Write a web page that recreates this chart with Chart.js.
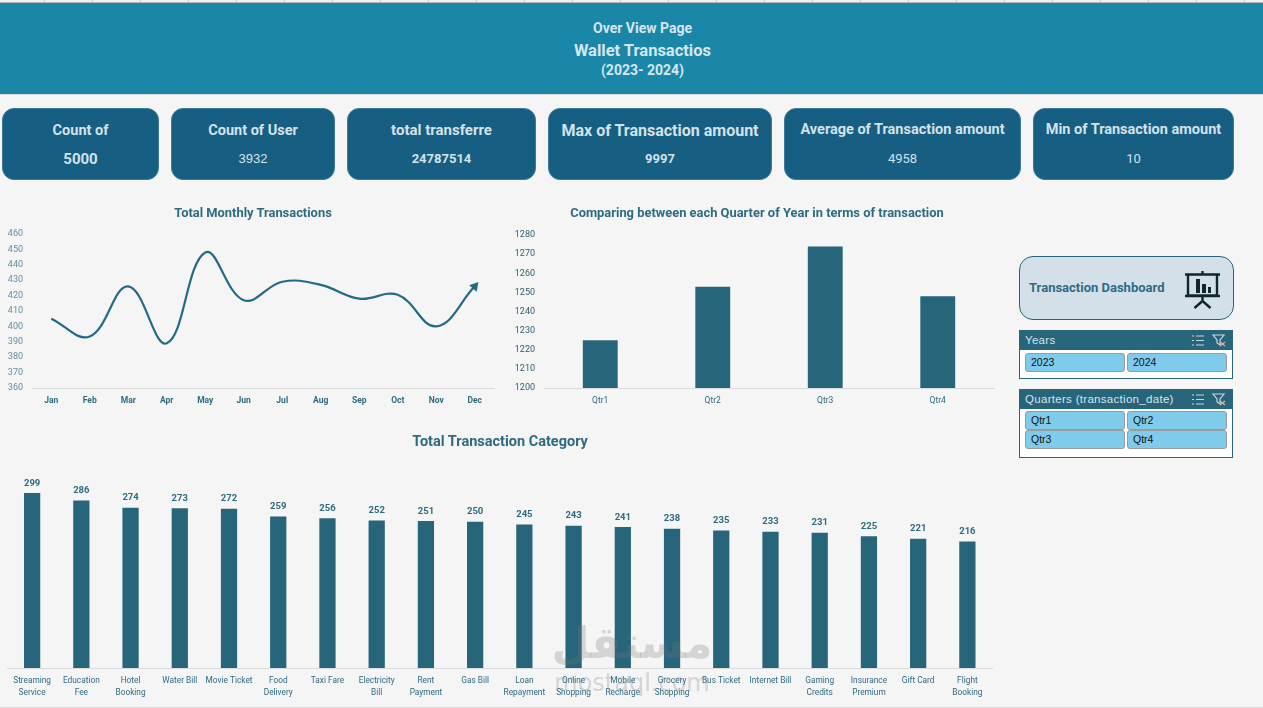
<!DOCTYPE html>
<html>
<head>
<meta charset="utf-8">
<title>Wallet Transactions</title>
<script src="https://cdn.jsdelivr.net/npm/chart.js@4"></script>
<style>
  html, body { margin: 0; padding: 0; background: #f5f5f5; overflow: hidden; }
  body { width: 1263px; height: 708px; position: relative; font-family: Roboto, sans-serif; }
  .abs, canvas { position: absolute; }
  #strip { left: 0; top: 0; width: 1263px; height: 2px; background: repeating-linear-gradient(90deg, #f0f0f0 0 44px, #cfcfcf 44px 45px, #f0f0f0 45px 48px); border-bottom: 1px solid #b5b5b5; }
  #header { left: 0; top: 3px; width: 1263px; height: 91px; background: #1a86a8; border-bottom: 1px solid #dcdcdc; color: #d6e6ee; text-align: center; font-weight: 700; font-size: 14px; line-height: 21px; }
  #header div { position: relative; left: 11px; top: 15px; }
  #header .big { font-size: 16.5px; top: 16px; }
  #bottomLine { left: 0; top: 707px; width: 1263px; height: 1px; background: #dcdcdc; }
  .card { background: #165e82; border: 1px solid #3b7a9a; border-radius: 12px; color: #d4e2ea; text-align: center; box-sizing: border-box; top: 108px; height: 72px; }
  .card .t { position: absolute; left: 0; right: 0; top: 12px; font-weight: 700; font-size: 14.5px; line-height: 18px; }
  .card .v { position: absolute; left: 0; right: 0; top: 41px; font-size: 13px; line-height: 18px; }
  .ct { text-align: center; color: #2f6b80; font-weight: 700; font-size: 12.9px; line-height: 18px; width: 500px; z-index: 2; }
  #panel { left: 1019px; top: 256px; width: 215px; height: 64px; box-sizing: border-box; background: #d3e0ea; border: 1px solid #26647a; border-radius: 14px; color: #2f6b80; font-weight: 700; font-size: 13px; line-height: 62px; padding-left: 9px; }
  .slicer { left: 1019px; width: 214px; background: #fff; border: 1px solid #27657a; box-sizing: border-box; }
  .slicer .h { height: 19px; background: #27657a; color: #d8e4ea; font-family: "Liberation Sans", sans-serif; font-size: 11.5px; line-height: 19px; padding-left: 5px; letter-spacing: .3px; }
  .btn { position: absolute; width: 100px; height: 19px; box-sizing: border-box; background: #7fcbec; border: 1px solid #9a9a9a; border-radius: 3px; font-family: "Liberation Sans", sans-serif; font-size: 10.5px; line-height: 17px; padding-left: 5px; color: #111; }
  #wm { left: 530px; top: 618px; width: 204px; text-align: center; color: rgba(120,120,120,.26); font-family: "DejaVu Sans", sans-serif; pointer-events: none; z-index: 5; }
  #wm .ar { font-size: 44px; line-height: 50px; font-weight: 700; }
  #wm .en { font-size: 24px; line-height: 30px; }
</style>
</head>
<body>
<div id="strip" class="abs"></div>
<div id="header" class="abs"><div>Over View Page</div><div class="big">Wallet Transactios</div><div>(2023- 2024)</div></div>
<div id="cards"></div>

<canvas id="lineChart" width="506" height="214" style="left:0;top:200px"></canvas>
<canvas id="quarterChart" width="500" height="214" style="left:507px;top:200px"></canvas>
<canvas id="categoryChart" width="1000" height="278" style="left:0;top:430px"></canvas>

<div class="abs ct" style="left:3px;top:204px">Total Monthly Transactions</div>
<div class="abs ct" style="left:507px;top:204px">Comparing between each Quarter of Year in terms of transaction</div>
<div class="abs ct" style="left:250px;top:433px;font-size:14.5px">Total Transaction Category</div>

<div id="panel" class="abs">Transaction Dashboard</div>
<svg class="abs" style="left:1184px;top:271px" width="37" height="38" viewBox="0 0 37 38" fill="none" stroke="#10262e" stroke-width="2.4">
  <path d="M1 3.500h35M4 3.500v21h29v-21M1 25h35M18.500 25v6M18.500 30l-8 7M18.500 30l8 7M18.500 0v3"/>
  <path d="M12 8h4v14h-4zM18 13h4v9h-4zM24 16h3v6h-3z" fill="#10262e" stroke="none"/>
</svg>
<div class="abs slicer" style="top:330px;height:49px"><div class="h">Years</div></div>
<div class="abs slicer" style="top:389px;height:69px"><div class="h">Quarters (transaction_date)</div></div>
<svg class="abs" style="left:1191px;top:334px" width="36" height="13" viewBox="0 0 36 13" fill="none" stroke="#c9d8df" stroke-width="1.2">
  <path d="M5 2h8M5 6.500h8M5 11h8M1 2h2M1 6.500h2M1 11h2M22 1h11l-4 5v5l-3-2v-3z"/><path d="M29 8l5 4M34 8l-5 4" stroke="#e2b7a8"/>
</svg>
<svg class="abs" style="left:1191px;top:393px" width="36" height="13" viewBox="0 0 36 13" fill="none" stroke="#c9d8df" stroke-width="1.2">
  <path d="M5 2h8M5 6.500h8M5 11h8M1 2h2M1 6.500h2M1 11h2M22 1h11l-4 5v5l-3-2v-3z"/><path d="M29 8l5 4M34 8l-5 4" stroke="#e2b7a8"/>
</svg>
<div id="buttons"></div>
<div id="wm" class="abs"><div class="ar">مستقل</div><div class="en">mostaql.com</div></div>
<div id="bottomLine" class="abs"></div>

<script>
const months = ['Jan','Feb','Mar','Apr','May','Jun','Jul','Aug','Sep','Oct','Nov','Dec'];
const monthTotals = [405,393.5,426,389,448,417,429,427,418,420.5,400,426];

const quarters = ['Qtr1','Qtr2','Qtr3','Qtr4'];
const quarterTotals = [1225,1253,1274,1248];

const categories = [['Streaming','Service'],['Education','Fee'],['Hotel','Booking'],'Water Bill','Movie Ticket',
  ['Food','Delivery'],'Taxi Fare',['Electricity','Bill'],['Rent','Payment'],'Gas Bill',['Loan','Repayment'],
  ['Online','Shopping'],['Mobile','Recharge'],['Grocery','Shopping'],'Bus Ticket','Internet Bill',
  ['Gaming','Credits'],['Insurance','Premium'],'Gift Card',['Flight','Booking']];
const categoryTotals = [299,286,274,273,272,259,256,252,251,250,245,243,241,238,235,233,231,225,221,216];

const cardTitles = ['Count of','Count of User','total transferre','Max of Transaction amount','Average of Transaction amount','Min of Transaction amount'];
const cardValues = ['5000','3932','24787514','9997','4958','10'];
const cardBold = [true,false,true,true,false,false];
const cardLeft = [2,171,347,548,784,1033];
const cardRight = [159,335,536,772,1021,1234];

const yearButtons = [['2023',1025,353],['2024',1127,353]];
const quarterButtons = [['Qtr1',1025,411],['Qtr2',1127,411],['Qtr3',1025,430],['Qtr4',1127,430]];

const dark = '#27657a';
const tickBlue = '#5f90a4';
const labelBlue = '#2f6b80';
const axisGrey = '#dcdcdc';

cardTitles.forEach((t, i) => {
  const d = document.createElement('div');
  d.className = 'abs card';
  d.style.left = cardLeft[i] + 'px';
  d.style.width = (cardRight[i] - cardLeft[i]) + 'px';
  let titleStyle = '';
  if (i == 3) titleStyle = 'font-size:16px;top:13px';
  if (i == 0 || i == 1) titleStyle = 'top:13px';
  if (i == 2) titleStyle = 'font-size:15px';
  let valueStyle = 'font-weight:' + (cardBold[i] ? 700 : 400);
  if (i == 0) valueStyle += ';font-size:15px';
  if (i == 1) valueStyle += ';font-family:Liberation Sans';
  d.innerHTML = '<div class="t" style="' + titleStyle + '">' + t + '</div><div class="v" style="' + valueStyle + '">' + cardValues[i] + '</div>';
  document.getElementById('cards').appendChild(d);
});
yearButtons.concat(quarterButtons).forEach(b => {
  const d = document.createElement('div');
  d.className = 'btn';
  d.style.left = b[1] + 'px';
  d.style.top = b[2] + 'px';
  d.textContent = b[0];
  document.getElementById('buttons').appendChild(d);
});

// value labels above the bars of the category chart
const barValues = {
  id: 'barValues',
  afterDatasetsDraw(chart) {
    const ctx = chart.ctx;
    ctx.save();
    ctx.font = '700 9.5px Roboto';
    ctx.fillStyle = labelBlue;
    ctx.textAlign = 'center';
    ctx.textBaseline = 'bottom';
    chart.getDatasetMeta(0).data.forEach((bar, i) => {
      ctx.fillText(categoryTotals[i], bar.x, bar.y - 5);
    });
    ctx.restore();
  }
};

function fixedWidth(w) { return scale => { scale.width = w; }; }
function fixedHeight(h) { return scale => { scale.height = h; }; }

new Chart(document.getElementById('lineChart'), {
  type: 'line',
  data: {
    labels: months,
    datasets: [{
      data: monthTotals,
      borderColor: '#236a87',
      borderWidth: 2.2,
      tension: 0.4,
      fill: false,
      pointRadius: months.map((m, i) => i == months.length - 1 ? 3.5 : 0),
      pointStyle: 'triangle',
      rotation: 40,
      pointBackgroundColor: '#236a87',
      pointBorderColor: '#236a87'
    }]
  },
  options: {
    responsive: false,
    animation: false,
    layout: { padding: { top: 34, right: 12 } },
    plugins: { legend: { display: false } },
    scales: {
      x: {
        offset: true,
        grid: { display: false },
        border: { color: axisGrey },
        ticks: { color: labelBlue, font: { family: 'Roboto', size: 8.500, weight: '700' }, maxRotation: 0, autoSkip: false, padding: 0 },
        afterFit: fixedHeight(26)
      },
      y: {
        min: 360, max: 460,
        grid: { display: false },
        border: { display: false },
        ticks: { stepSize: 10, color: tickBlue, font: { family: 'Roboto', size: 9 }, padding: 1 },
        afterFit: fixedWidth(32)
      }
    }
  }
});

new Chart(document.getElementById('quarterChart'), {
  type: 'bar',
  data: {
    labels: quarters,
    datasets: [{ data: quarterTotals, backgroundColor: dark, barPercentage: 1, categoryPercentage: 0.31 }]
  },
  options: {
    responsive: false,
    animation: false,
    layout: { padding: { top: 35, right: 13 } },
    plugins: { legend: { display: false } },
    scales: {
      x: {
        grid: { display: false },
        border: { color: axisGrey },
        ticks: { color: labelBlue, font: { family: 'Roboto', size: 8.500 }, maxRotation: 0, padding: 0 },
        afterFit: fixedHeight(26)
      },
      y: {
        min: 1200, max: 1280,
        grid: { display: false },
        border: { display: false },
        ticks: { stepSize: 10, color: '#2f5f70', font: { family: 'Roboto', size: 9 }, padding: 1, callback: v => String(v) },
        afterFit: fixedWidth(37)
      }
    }
  }
});

new Chart(document.getElementById('categoryChart'), {
  type: 'bar',
  plugins: [barValues],
  data: {
    labels: categories,
    datasets: [{ data: categoryTotals, backgroundColor: dark, barPercentage: 1, categoryPercentage: 0.33 }]
  },
  options: {
    responsive: false,
    animation: false,
    layout: { padding: { left: 7.500, right: 8, top: 39 } },
    plugins: { legend: { display: false } },
    scales: {
      x: {
        grid: { display: false, tickLength: 4 },
        border: { color: axisGrey },
        ticks: { color: labelBlue, font: { family: 'Roboto', size: 8.300, lineHeight: 1.45 }, maxRotation: 0, autoSkip: false, padding: 3 },
        afterFit: fixedHeight(40)
      },
      y: {
        display: false,
        min: 0, max: 340
      }
    }
  }
});
</script>
</body>
</html>
